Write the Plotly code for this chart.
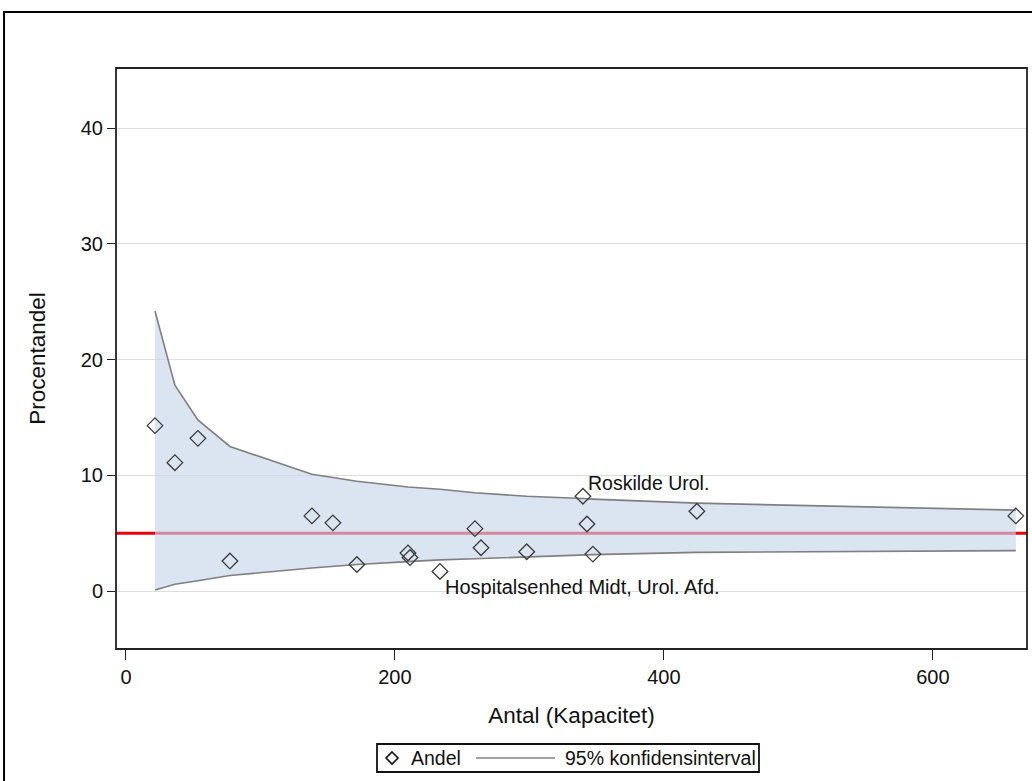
import plotly.graph_objects as go

# Hospital units: volume (antal) and share (procentandel)
antal = [21.6, 36.4, 53.5, 77.3, 138.3, 153.9, 171.7, 209.7, 211.2, 233.5,
         259.5, 264.0, 298.0, 339.8, 342.8, 347.2, 424.5, 661.7]
andel = [14.3, 11.1, 13.2, 2.6, 6.5, 5.9, 2.3, 3.3, 2.9, 1.7,
         5.4, 3.75, 3.4, 8.2, 5.8, 3.2, 6.9, 6.5]

# 95% confidence limits around the reference share
ci_antal = [21.6, 36.4, 53.5, 77.3, 138.3, 153.9, 171.7, 209.7, 233.5,
            259.5, 298.0, 339.8, 347.2, 424.5, 661.7]
ci_upper = [24.2, 17.8, 14.8, 12.5, 10.1, 9.8, 9.5, 9.0, 8.8,
            8.5, 8.2, 8.0, 7.95, 7.6, 7.0]
ci_lower = [0.1, 0.6, 0.9, 1.35, 2.0, 2.15, 2.3, 2.55, 2.7,
            2.8, 2.95, 3.1, 3.15, 3.35, 3.5]

reference_value = 5.0

labelled = {
    "Roskilde Urol.": (339.8, 8.2),
    "Hospitalsenhed Midt, Urol. Afd.": (233.5, 1.7),
}

legend_labels = ["Andel", "95% konfidensinterval"]

FONT = "Liberation Sans, Arial, sans-serif"
BAND_LINE = "#7f7f7f"
MARKER_LINE = "#3a3a3a"

fig = go.Figure()

fig.add_trace(go.Scatter(
    x=ci_antal, y=ci_lower, mode="lines",
    line=dict(color=BAND_LINE, width=1.6),
    showlegend=False, hoverinfo="skip",
))
fig.add_trace(go.Scatter(
    x=ci_antal, y=ci_upper, mode="lines",
    line=dict(color=BAND_LINE, width=1.6),
    fill="tonexty", fillcolor="rgba(200,214,234,0.65)",
    showlegend=False, name=legend_labels[1],
))
fig.add_trace(go.Scatter(
    x=antal, y=andel, mode="markers",
    marker=dict(symbol="diamond-open", size=12,
                line=dict(color=MARKER_LINE, width=1.3), color=MARKER_LINE),
    showlegend=False, name=legend_labels[0],
))

# Reference line under the band
fig.add_shape(type="line", xref="paper", x0=0, x1=1, yref="y",
              y0=reference_value, y1=reference_value,
              line=dict(color="#e8000b", width=3), layer="below")

# Plot-area frame
fig.add_shape(type="rect", xref="paper", yref="paper", x0=0, x1=1, y0=0, y1=1,
              line=dict(color="#222222", width=1.8), layer="above")

# Outer graph frame (runs off the right and bottom edges)
fig.add_shape(type="rect", xref="paper", yref="paper",
              x0=-0.1229, x1=1.03, y0=-0.26, y1=1.0964,
              line=dict(color="#000000", width=2), layer="above")

# Point labels
fig.add_annotation(x=labelled["Roskilde Urol."][0], y=labelled["Roskilde Urol."][1],
                   text="Roskilde Urol.", showarrow=False,
                   xanchor="left", yanchor="bottom", xshift=3, yshift=0,
                   font=dict(family=FONT, size=19.5, color="#111111"))
fig.add_annotation(x=labelled["Hospitalsenhed Midt, Urol. Afd."][0],
                   y=labelled["Hospitalsenhed Midt, Urol. Afd."][1],
                   text="Hospitalsenhed Midt, Urol. Afd.", showarrow=False,
                   xanchor="left", yanchor="top", xshift=3, yshift=-3,
                   font=dict(family=FONT, size=20, color="#111111"))

# Legend box below the axis title
LEG_Y = -0.1876
fig.add_shape(type="rect", xref="paper", yref="paper",
              x0=0.2865, x1=0.7058, y0=-0.2117, y1=-0.1635,
              line=dict(color="#111111", width=1.8), fillcolor="white",
              layer="above")
fig.add_shape(type="path", xref="paper", yref="paper",
              xsizemode="pixel", ysizemode="pixel",
              xanchor=0.303, yanchor=LEG_Y,
              path="M 0 6 L 6 0 L 0 -6 L -6 0 Z",
              line=dict(color="#111111", width=1.6), layer="above")
fig.add_shape(type="line", xref="paper", yref="paper",
              x0=0.3952, x1=0.4819, y0=LEG_Y, y1=LEG_Y,
              line=dict(color=BAND_LINE, width=1.6), layer="above")
fig.add_annotation(xref="paper", yref="paper", x=0.3215, y=LEG_Y,
                   text=legend_labels[0], showarrow=False,
                   xanchor="left", yanchor="middle",
                   font=dict(family=FONT, size=19.5, color="#111111"))
fig.add_annotation(xref="paper", yref="paper", x=0.4905, y=LEG_Y,
                   text=legend_labels[1], showarrow=False,
                   xanchor="left", yanchor="middle",
                   font=dict(family=FONT, size=19.5, color="#111111"))

fig.update_layout(
    width=1032, height=781,
    margin=dict(l=116, r=5, t=68, b=132),
    paper_bgcolor="white", plot_bgcolor="white",
    font=dict(family=FONT, size=20, color="#111111"),
    showlegend=False,
    xaxis=dict(
        range=[-7.4, 670], tickvals=[0, 200, 400, 600],
        showgrid=False, zeroline=False,
        ticks="outside", ticklen=10, tickwidth=1.4, tickcolor="#222222",
        tickfont=dict(size=20),
        title=dict(text="Antal (Kapacitet)", font=dict(size=22.5), standoff=20),
    ),
    yaxis=dict(
        range=[-5, 45.2], tickvals=[0, 10, 20, 30, 40],
        showgrid=True, gridcolor="#dedede", gridwidth=1,
        zeroline=False,
        ticks="outside", ticklen=8, tickwidth=1.4, tickcolor="#222222",
        tickfont=dict(size=20),
        title=dict(text="Procentandel", font=dict(size=22.5), standoff=28),
    ),
)

fig.write_html("out.html")
